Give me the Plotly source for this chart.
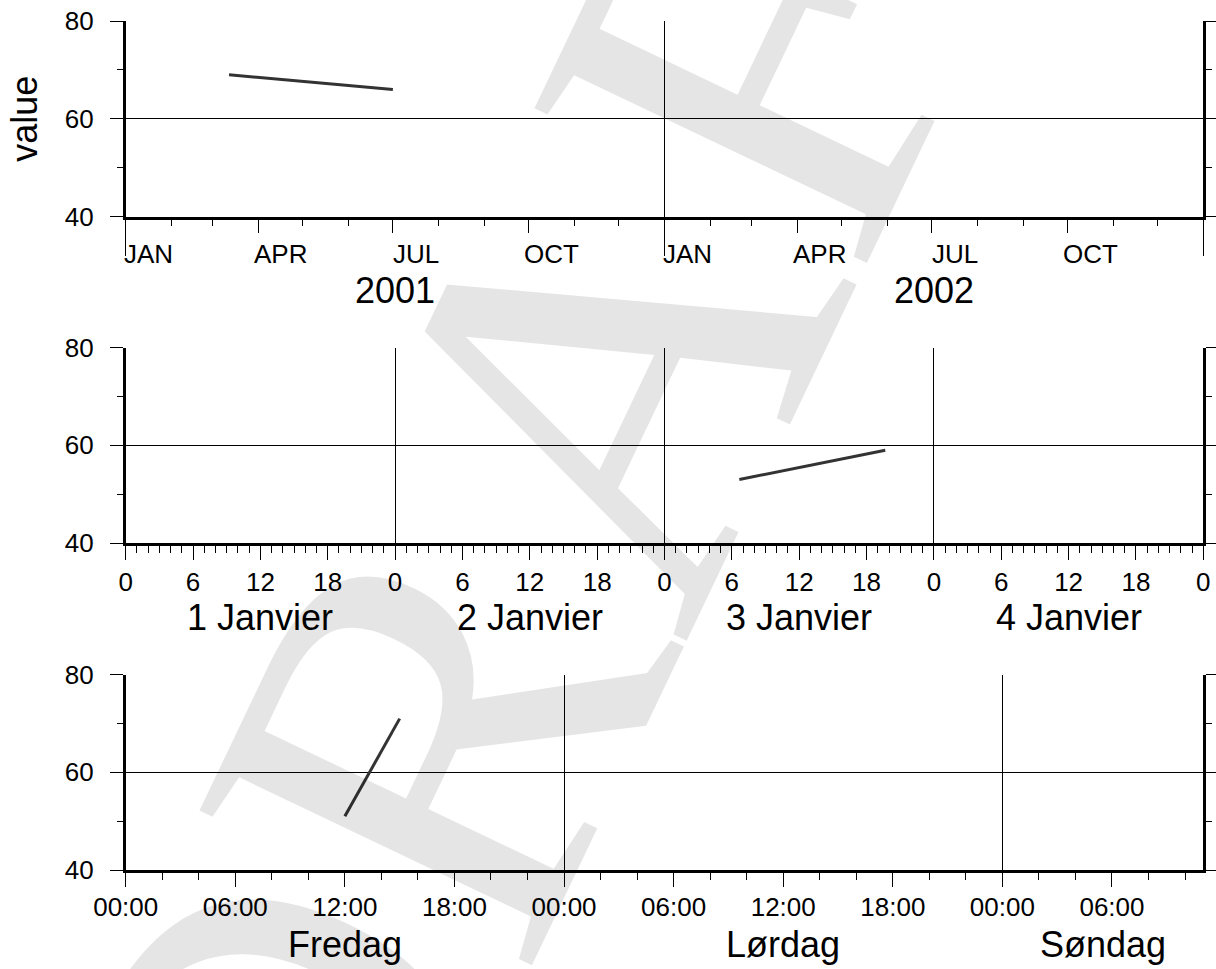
import pandas as pd
import plotly.graph_objects as go

# ---------------------------------------------------------------- data
# panel 1: two-year axis
years_x = ["2001-03-12", "2001-07-01"]
years_y = [69, 66]
# panel 2: four days in January
days_x = ["2001-01-03 06:40", "2001-01-03 19:40"]
days_y = [53, 59]
# panel 3: a weekend, hours
hours_x = ["2001-01-05 12:00", "2001-01-05 15:00"]
hours_y = [51, 71]

value_ticks = [40, 60, 80]
month_names = ["JAN", "APR", "JUL", "OCT"]
year_names = ["2001", "2002"]
jour_names = ["1 Janvier", "2 Janvier", "3 Janvier", "4 Janvier"]
dag_names = ["Fredag", "Lørdag", "Søndag"]

range_years = ["2001-01-01", "2003-01-01"]
range_days = ["2001-01-01", "2001-01-05"]
range_hours = ["2001-01-05", "2001-01-07 11:00"]

# ---------------------------------------------------------------- style
W, H = 1216, 969
SANS = "Liberation Sans"
TICK_FONT = dict(family=SANS, size=26, color="black")
BIG_FONT = dict(family=SANS, size=36, color="black")
LINE = "#333333"
HOUR = 3600 * 1000


def px_x(p):
    return p / W


def px_y(p):
    return 1 - p / H


X_DOMAIN = [px_x(125.7), px_x(1203.3)]
Y_DOMAINS = [
    [px_y(216.7), px_y(21.0)],
    [px_y(543.0), px_y(347.7)],
    [px_y(870.0), px_y(674.7)],
]


def y_axis(domain, anchor):
    return dict(
        domain=domain, anchor=anchor, range=[40, 80], fixedrange=True,
        automargin=False,
        tickmode="array", tickvals=value_ticks,
        ticks="outside", ticklen=13, tickwidth=1, tickcolor="black",
        minor=dict(dtick=10, tick0=40, ticks="outside", ticklen=6,
                   tickwidth=1, tickcolor="black", showgrid=False),
        showline=True, linewidth=2.5, linecolor="black", mirror="ticks",
        showgrid=True, gridcolor="black", gridwidth=1, zeroline=False,
        tickfont=TICK_FONT, ticklabelstandoff=11,
    )


def x_axis(anchor, rng, standoff=0, **kw):
    base = dict(
        domain=X_DOMAIN, anchor=anchor, type="date", range=rng, fixedrange=True,
        automargin=False,
        ticks="outside", ticklen=14, tickwidth=1, tickcolor="black",
        showline=True, linewidth=2.5, linecolor="black",
        showgrid=False, zeroline=False, tickfont=TICK_FONT,
        ticklabelstandoff=standoff,
    )
    base.update(kw)
    return base


def boundary_axis(over, anchor, rng, vals, ticklen=0):
    return dict(
        overlaying=over, anchor=anchor, domain=X_DOMAIN, type="date",
        range=rng, fixedrange=True, side="bottom", automargin=False,
        tickmode="array", tickvals=vals, showticklabels=False,
        ticks="outside" if ticklen else "", ticklen=ticklen, tickwidth=1,
        tickcolor="black", showline=False, zeroline=False,
        showgrid=True, gridcolor="black", gridwidth=1,
    )


def clip_mid(start, end, rng):
    lo, hi = pd.Timestamp(rng[0]), pd.Timestamp(rng[1])
    a, b = max(start, lo), min(end, hi)
    return a + (b - a) / 2


fig = go.Figure()

fig.add_trace(go.Scatter(x=years_x, y=years_y, mode="lines",
                         line=dict(color=LINE, width=3), xaxis="x", yaxis="y"))
fig.add_trace(go.Scatter(x=days_x, y=days_y, mode="lines",
                         line=dict(color=LINE, width=3), xaxis="x2", yaxis="y2"))
fig.add_trace(go.Scatter(x=hours_x, y=hours_y, mode="lines",
                         line=dict(color=LINE, width=3), xaxis="x3", yaxis="y3"))
# empty traces so the boundary (grid) axes get their own subplots
for xa, ya, rng in (("x4", "y", range_years), ("x5", "y2", range_days),
                    ("x6", "y3", range_hours)):
    fig.add_trace(go.Scatter(x=rng, y=[None, None], mode="lines",
                             xaxis=xa, yaxis=ya, hoverinfo="skip"))

year_bounds = pd.date_range(range_years[0], range_years[1], freq="YS")
day_bounds = pd.date_range(range_days[0], range_days[1], freq="D")
weekend_bounds = pd.date_range(range_hours[0], pd.Timestamp(range_hours[1]).normalize(), freq="D")

layout = dict(
    template="none",
    width=W, height=H, autosize=False,
    margin=dict(l=0, r=0, t=0, b=0, pad=0),
    paper_bgcolor="white", plot_bgcolor="white",
    showlegend=False,
    yaxis=y_axis(Y_DOMAINS[0], "x"),
    yaxis2=y_axis(Y_DOMAINS[1], "x2"),
    yaxis3=y_axis(Y_DOMAINS[2], "x3"),
    xaxis=x_axis("y", range_years, dtick="M3", tick0="2001-01-01",
                 showticklabels=False,
                 minor=dict(dtick="M1", tick0="2001-01-01", ticks="outside",
                            ticklen=7, tickwidth=1, tickcolor="black")),
    xaxis2=x_axis("y2", range_days, dtick=6 * HOUR, tick0="2001-01-01",
                  tickformat="%-H",
                  minor=dict(dtick=HOUR, tick0="2001-01-01", ticks="outside",
                             ticklen=7, tickwidth=1, tickcolor="black")),
    xaxis3=x_axis("y3", range_hours, standoff=-2, dtick=6 * HOUR, tick0="2001-01-05",
                  tickformat="%H:%M",
                  minor=dict(dtick=2 * HOUR, tick0="2001-01-05", ticks="outside",
                             ticklen=7, tickwidth=1, tickcolor="black")),
    xaxis4=boundary_axis("x", "y", range_years, list(year_bounds), ticklen=38),
    xaxis5=boundary_axis("x2", "y2", range_days, list(day_bounds)),
    xaxis6=boundary_axis("x3", "y3", range_hours, list(weekend_bounds)),
)
fig.update_layout(**layout)

annotations = []


def label(text, x, xref, yref, shift, font):
    annotations.append(dict(
        text=text, x=x, y=0, xref=xref, yref=yref, yshift=shift,
        xanchor="center", yanchor="middle", showarrow=False, font=font))


# month names centred in the first month of each quarter
q = 0
for yr in (2001, 2002):
    for m in (1, 4, 7, 10):
        start = pd.Timestamp(yr, m, 1)
        end = start + pd.offsets.MonthBegin(1)
        label(month_names[q % 4], start + (end - start) / 2, "x", "y domain", -37.6, TICK_FONT)
        q += 1

for name, start in zip(year_names, year_bounds[:-1]):
    label(name, clip_mid(start, start + pd.offsets.YearBegin(1), range_years),
          "x", "y domain", -74, dict(family=SANS, size=36, color="black"))

for name, start in zip(jour_names, day_bounds[:-1]):
    label(name, clip_mid(start, start + pd.Timedelta(days=1), range_days),
          "x2", "y2 domain", -74, BIG_FONT)

for name, start in zip(dag_names, weekend_bounds):
    label(name, clip_mid(start, start + pd.Timedelta(days=1), range_hours),
          "x3", "y3 domain", -74, BIG_FONT)

# y title for the top panel
annotations.append(dict(
    text="value", x=px_x(25), y=sum(Y_DOMAINS[0]) / 2, xref="paper", yref="paper",
    textangle=-90, showarrow=False, xanchor="center", yanchor="middle",
    font=dict(family=SANS, size=36, color="black")))

# watermark
annotations.append(dict(
    text="DRAFT", x=px_x(574), y=px_y(438), xref="paper", yref="paper",
    textangle=-64.5, showarrow=False, xanchor="center", yanchor="middle",
    font=dict(family="Liberation Serif", size=560, color="rgba(0,0,0,0.1)")))

fig.update_layout(annotations=annotations)

fig.write_html("out.html")
